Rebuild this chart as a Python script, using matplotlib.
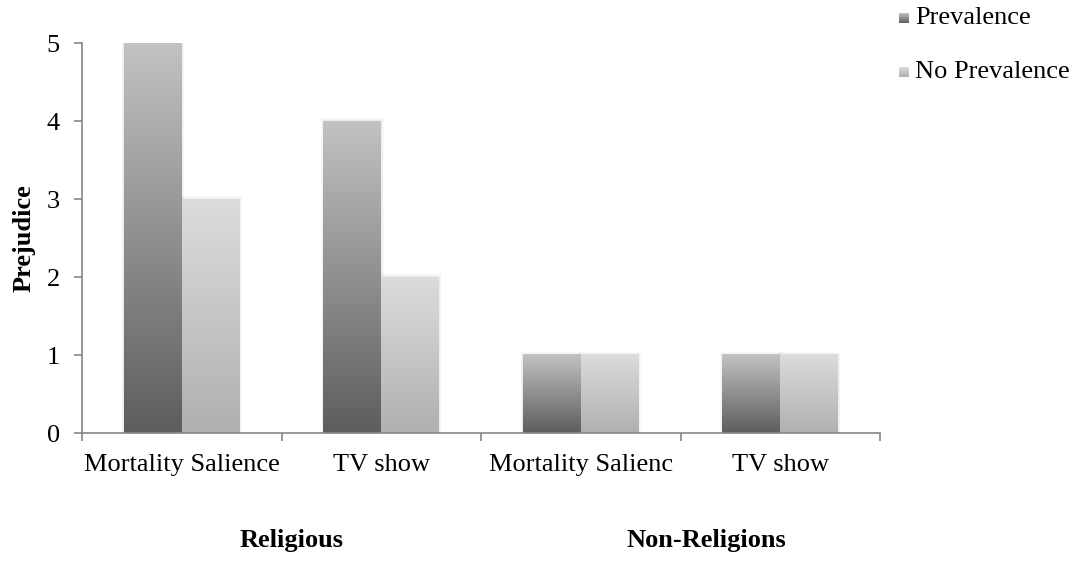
import numpy as np
import matplotlib
matplotlib.use("Agg")
import matplotlib.pyplot as plt
import matplotlib.transforms as mtransforms
from matplotlib.colors import LinearSegmentedColormap
from matplotlib.patches import Rectangle

categories = ["Mortality Salience", "TV show", "Mortality Salienc", "TV show"]
prevalence = [5, 4, 1, 1]
no_prevalence = [3, 2, 1, 1]
groups = ["Religious", "Non-Religions"]
group_pos = [0.55, 2.63]
series_names = ["Prevalence", "No Prevalence"]

plt.rcParams['font.family'] = ['Liberation Serif', 'DejaVu Serif']

# gradient colours for each series (bottom -> top)
cmap_prev = LinearSegmentedColormap.from_list("prev", ["#5d5d5d", "#c2c2c2"])
cmap_noprev = LinearSegmentedColormap.from_list("noprev", ["#b0b0b0", "#dcdcdc"])
grad = np.linspace(0, 1, 256).reshape(-1, 1)

fig = plt.figure(figsize=(10.78, 5.61), dpi=100)
ax = fig.add_axes([82 / 1078, 1 - 433 / 561, (880 - 82) / 1078, (433 - 43) / 561])

width = 0.29
x = np.arange(len(categories))


def gradient_bar(xc, h, cmap):
    x0, x1 = xc - width / 2, xc + width / 2
    # soft shadow
    for k in range(1, 4):
        dx = 0.004 * k
        dy = 0.012 * k
        ax.add_patch(Rectangle((x0 - dx, 0), (x1 - x0) + 2 * dx, h + dy,
                               facecolor="black", alpha=0.025, lw=0, zorder=1))
    ax.imshow(grad, extent=[x0, x1, 0, h], origin="lower", aspect="auto",
              cmap=cmap, vmin=0, vmax=1, zorder=2, interpolation="bilinear")


for i in range(len(categories)):
    gradient_bar(x[i] - width / 2, prevalence[i], cmap_prev)
    gradient_bar(x[i] + width / 2, no_prevalence[i], cmap_noprev)

ax.set_xlim(-0.5, len(categories) - 0.5)
ax.set_ylim(0, 5)

ax.spines["top"].set_visible(False)
ax.spines["right"].set_visible(False)
for s in ["left", "bottom"]:
    ax.spines[s].set_color("#868686")
    ax.spines[s].set_linewidth(1.2)

ax.set_yticks(range(0, 6))
ax.tick_params(axis="y", length=6, width=1.2, color="#868686", pad=10, labelsize=19)
ax.set_xticks(x)
ax.set_xticklabels(categories)
ax.tick_params(axis="x", which="major", length=0, pad=15, labelsize=19)
ax.set_xticks(np.arange(-0.5, len(categories)), minor=True)
ax.tick_params(axis="x", which="minor", length=6, width=1.2, color="#868686")

ax.set_ylabel("Prejudice", fontsize=19, fontweight="bold", labelpad=8)

# group labels below the category labels
tr = mtransforms.blended_transform_factory(ax.transData, fig.transFigure)
for g, gp in zip(groups, group_pos):
    ax.text(gp, 1 - 541 / 561, g, transform=tr, ha="center", va="center",
            fontsize=19, fontweight="bold")

# legend with gradient squares
legend_rows = [18, 72]
for name, cm, ry in zip(series_names, [cmap_prev, cmap_noprev], legend_rows):
    lax = fig.add_axes([899 / 1078, 1 - (ry + 5) / 561, 10 / 1078, 10 / 561])
    lax.imshow(grad, origin="lower", aspect="auto", cmap=cm, vmin=0, vmax=1)
    lax.axis("off")
    fig.text(915 / 1078, 1 - ry / 561, name, fontsize=19, va="center", ha="left")

fig.savefig("out.png", dpi=100)
